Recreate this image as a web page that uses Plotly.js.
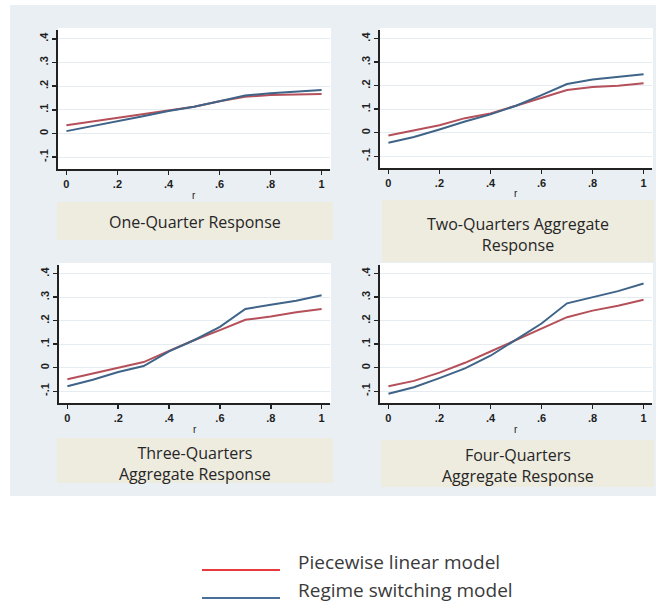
<!DOCTYPE html>
<html>
<head>
<meta charset="utf-8">
<script src="https://cdn.plot.ly/plotly-3.0.1.min.js"></script>
<style>html,body{margin:0;padding:0;background:#fff;}#chart{width:665px;height:605px;}</style>
</head>
<body>
<div id="chart"></div>
<script>
// ---- data ----
var r = [0, 0.1, 0.2, 0.3, 0.4, 0.5, 0.6, 0.7, 0.8, 0.9, 1.0];

var q1Piecewise = [0.035, 0.050, 0.066, 0.080, 0.096, 0.113, 0.136, 0.155, 0.162, 0.164, 0.167];
var q1Regime    = [0.010, 0.030, 0.052, 0.073, 0.095, 0.113, 0.136, 0.160, 0.170, 0.178, 0.184];

var q2Piecewise = [-0.012, 0.010, 0.032, 0.062, 0.082, 0.115, 0.150, 0.182, 0.195, 0.200, 0.210];
var q2Regime    = [-0.043, -0.018, 0.014, 0.048, 0.078, 0.115, 0.160, 0.207, 0.226, 0.238, 0.249];

var q3Piecewise = [-0.049, -0.024, 0.000, 0.024, 0.072, 0.118, 0.160, 0.204, 0.218, 0.236, 0.250];
var q3Regime    = [-0.079, -0.051, -0.018, 0.007, 0.070, 0.118, 0.174, 0.250, 0.268, 0.285, 0.308];

var q4Piecewise = [-0.079, -0.056, -0.021, 0.021, 0.069, 0.118, 0.167, 0.215, 0.243, 0.264, 0.289];
var q4Regime    = [-0.111, -0.083, -0.044, -0.003, 0.051, 0.118, 0.188, 0.274, 0.299, 0.326, 0.358];

var panelTitles = [
  ["One-Quarter Response"],
  ["Two-Quarters Aggregate", "Response"],
  ["Three-Quarters", "Aggregate Response"],
  ["Four-Quarters", "Aggregate Response"]
];
var seriesNames = ["Piecewise linear model", "Regime switching model"];
var xTickVals = [0, 0.2, 0.4, 0.6, 0.8, 1];
var xTickText = ["0", ".2", ".4", ".6", ".8", "1"];
var yTickVals = [-0.1, 0, 0.1, 0.2, 0.3, 0.4];
var yTickText = ["-.1", "0", ".1", ".2", ".3", ".4"];
var axisTitle = "r";

// ---- layout helpers ----
var W = 665, H = 605;
function px(x){ return x / W; }
function py(y){ return 1 - y / H; }

var redLine = "#b5505a", blueLine = "#3f6488";
var redLeg = "#e8393e", blueLeg = "#4a6f98";
var tickFont = {family: "Liberation Sans, Arial, sans-serif", size: 11, color: "#1e1e1e", weight: "bold"};

var panels = [
  {x0:58,  x1:330, y0:30,  y1:169, cap:[57,333,202,240],  capY:222},
  {x0:380, x1:652, y0:30,  y1:168, cap:[382,654,200,262], capY:234},
  {x0:59,  x1:330, y0:265, y1:403, cap:[57,333,438,483],  capY:463.5},
  {x0:380, x1:652, y0:265, y1:403, cap:[381,654,440,487], capY:465}
];
var dataSets = [
  [q1Piecewise, q1Regime],
  [q2Piecewise, q2Regime],
  [q3Piecewise, q3Regime],
  [q4Piecewise, q4Regime]
];

var traces = [];
var layout = {
  width: W, height: H,
  margin: {l:0, r:0, t:0, b:0},
  paper_bgcolor: "#ffffff",
  plot_bgcolor: "rgba(0,0,0,0)",
  showlegend: false,
  shapes: [],
  annotations: []
};

// outer background
layout.shapes.push({type:"rect", xref:"paper", yref:"paper", layer:"below",
  x0:px(10), x1:px(656), y0:py(5), y1:py(496), fillcolor:"#e9eff3", line:{width:0}});

panels.forEach(function(p, i){
  var n = i + 1;
  var xa = n === 1 ? "xaxis" : "xaxis" + n;
  var ya = n === 1 ? "yaxis" : "yaxis" + n;
  var xr = n === 1 ? "x" : "x" + n;
  var yr = n === 1 ? "y" : "y" + n;

  layout[xa] = {
    domain: [px(p.x0), px(p.x1)], anchor: yr,
    range: [-0.033, 1.033], fixedrange: true,
    tickvals: xTickVals, ticktext: xTickText,
    ticks: "outside", ticklen: 4, tickwidth: 1.5, tickcolor: "#222",
    showline: true, linecolor: "#222", linewidth: 1.6,
    showgrid: false, zeroline: false,
    tickfont: tickFont
  };
  layout[ya] = {
    domain: [py(p.y1), py(p.y0)], anchor: xr,
    range: [-0.15, 0.437], fixedrange: true,
    tickvals: yTickVals, ticktext: yTickText, tickangle: -90,
    ticks: "outside", ticklen: 4, tickwidth: 1.5, tickcolor: "#222",
    showline: true, linecolor: "#222", linewidth: 1.6,
    showgrid: true, gridcolor: "#e4ebf1", gridwidth: 1.2, zeroline: false,
    tickfont: tickFont
  };

  // white plot area
  layout.shapes.push({type:"rect", xref:"paper", yref:"paper", layer:"below",
    x0:px(p.x0), x1:px(p.x1 + 1), y0:py(p.y1), y1:py(p.y0 - 2), fillcolor:"#ffffff", line:{width:0}});
  // caption box
  layout.shapes.push({type:"rect", xref:"paper", yref:"paper", layer:"below",
    x0:px(p.cap[0]), x1:px(p.cap[1]), y0:py(p.cap[3]), y1:py(p.cap[2]), fillcolor:"#eeebdf", line:{width:0}});

  layout.annotations.push({xref:"paper", yref:"paper", x:px((p.cap[0]+p.cap[1])/2), y:py(p.capY),
    text: panelTitles[i].join("<br>"), showarrow:false, xanchor:"center", yanchor:"middle",
    font:{family:"Open Sans, sans-serif", size:16, color:"#262626"}});
  layout.annotations.push({xref:xr, yref:"paper", x:0.5, y:py(p.y1 + 26),
    text: axisTitle, showarrow:false, xanchor:"center", yanchor:"middle",
    font:{family:"Liberation Sans, Arial, sans-serif", size:10, color:"#222"}});

  traces.push({x:r, y:dataSets[i][0], xaxis:xr, yaxis:yr, type:"scatter", mode:"lines",
    name: seriesNames[0], line:{color:redLine, width:2}});
  traces.push({x:r, y:dataSets[i][1], xaxis:xr, yaxis:yr, type:"scatter", mode:"lines",
    name: seriesNames[1], line:{color:blueLine, width:2}});
});

// legend (key lines + labels)
layout.shapes.push({type:"line", xref:"paper", yref:"paper", x0:px(202), x1:px(280), y0:py(570), y1:py(570), line:{color:redLeg, width:1.8}});
layout.shapes.push({type:"line", xref:"paper", yref:"paper", x0:px(202), x1:px(280), y0:py(598), y1:py(598), line:{color:blueLeg, width:1.8}});
layout.annotations.push({xref:"paper", yref:"paper", x:px(296), y:py(562), text:seriesNames[0], showarrow:false,
  xanchor:"left", yanchor:"middle", font:{family:"Open Sans, sans-serif", size:19, color:"#3a3a3a"}});
layout.annotations.push({xref:"paper", yref:"paper", x:px(296), y:py(590), text:seriesNames[1], showarrow:false,
  xanchor:"left", yanchor:"middle", font:{family:"Open Sans, sans-serif", size:19, color:"#3a3a3a"}});

Plotly.newPlot("chart", traces, layout, {displayModeBar:false, staticPlot:true});
</script>
</body>
</html>
